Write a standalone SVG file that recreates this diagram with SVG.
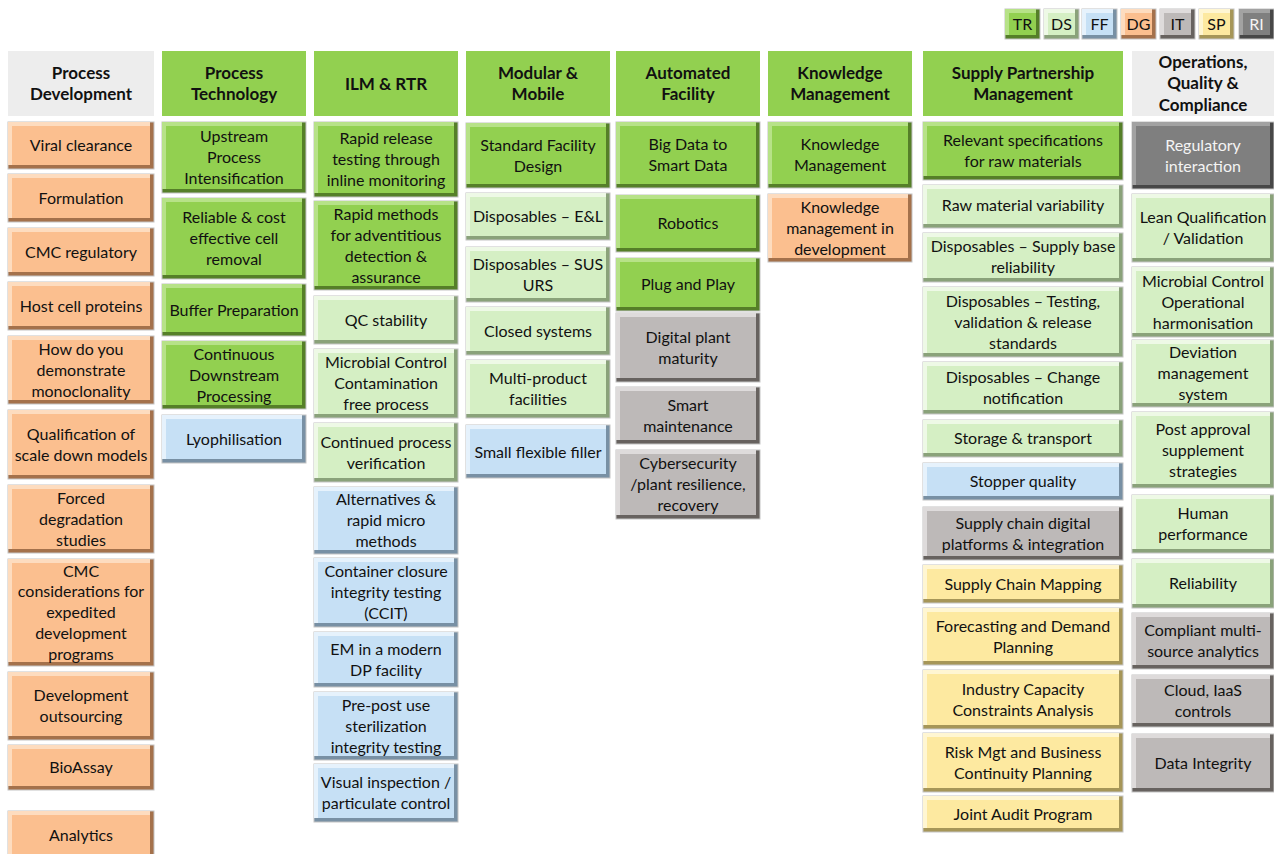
<svg xmlns="http://www.w3.org/2000/svg" width="1274" height="854" viewBox="0 0 1274 854">
<style>
  text{font-family:Lato,"Open Sans","Liberation Sans",sans-serif;font-size:16px;fill:#111111;text-anchor:middle}
  .hd text{font-weight:bold;font-size:17px}
  .hd rect{fill:#92d050}
  .hd.g rect{fill:#ededed}
  .d{stroke:#c4c4c4;stroke-width:1}
  .tr .d{fill:#557f28}.tr .l{fill:#b7e288}.tr .m{fill:#92d050}
  .ds .d{fill:#8aa27a}.ds .l{fill:#eef9e6}.ds .m{fill:#d5efc4}
  .ff .d{fill:#7890a4}.ff .l{fill:#e6f2fc}.ff .m{fill:#c6e0f5}
  .dg .d{fill:#a4714b}.dg .l{fill:#fddcbf}.dg .m{fill:#fbbf8f}
  .it .d{fill:#67625f}.it .l{fill:#dedbdb}.it .m{fill:#bdb9b8}
  .sp .d{fill:#a69658}.sp .l{fill:#fff6d2}.sp .m{fill:#fde9a0}
  .ri .d{fill:#474747}.ri .l{fill:#a2a2a2}.ri .m{fill:#7f7f7f}
  .ri text{fill:#f4f4f4}
</style>
<rect width="1274" height="854" fill="#ffffff"/>

<!-- colour key -->
<g id="legend">
  <g id="key-tr" class="tr"><rect class="d" x="1005" y="9" width="35" height="30"/><rect class="l" x="1005" y="9" width="31" height="26"/><rect class="m" x="1009" y="13" width="27" height="22"/><text x="1022.5" y="29.5">TR</text></g>
  <g id="key-ds" class="ds"><rect class="d" x="1044" y="9" width="35" height="30"/><rect class="l" x="1044" y="9" width="31" height="26"/><rect class="m" x="1048" y="13" width="27" height="22"/><text x="1061.5" y="29.5">DS</text></g>
  <g id="key-ff" class="ff"><rect class="d" x="1082" y="9" width="35" height="30"/><rect class="l" x="1082" y="9" width="31" height="26"/><rect class="m" x="1086" y="13" width="27" height="22"/><text x="1099.5" y="29.5">FF</text></g>
  <g id="key-dg" class="dg"><rect class="d" x="1121" y="9" width="35" height="30"/><rect class="l" x="1121" y="9" width="31" height="26"/><rect class="m" x="1125" y="13" width="27" height="22"/><text x="1138.5" y="29.5">DG</text></g>
  <g id="key-it" class="it"><rect class="d" x="1160" y="9" width="35" height="30"/><rect class="l" x="1160" y="9" width="31" height="26"/><rect class="m" x="1164" y="13" width="27" height="22"/><text x="1177.5" y="29.5">IT</text></g>
  <g id="key-sp" class="sp"><rect class="d" x="1199" y="9" width="35" height="30"/><rect class="l" x="1199" y="9" width="31" height="26"/><rect class="m" x="1203" y="13" width="27" height="22"/><text x="1216.5" y="29.5">SP</text></g>
  <g id="key-ri" class="ri"><rect class="d" x="1239" y="9" width="35" height="30"/><rect class="l" x="1239" y="9" width="31" height="26"/><rect class="m" x="1243" y="13" width="27" height="22"/><text x="1256.5" y="29.5">RI</text></g>
</g>

<!-- column headers -->
<g id="hdr-process-development" class="hd g"><rect x="8" y="51" width="146" height="65"/><text x="81" y="78.5">Process<tspan x="81" dy="21.5">Development</tspan></text></g>
<g id="hdr-process-technology" class="hd"><rect x="162" y="51" width="144" height="65"/><text x="234" y="78.5">Process<tspan x="234" dy="21.5">Technology</tspan></text></g>
<g id="hdr-ilm-rtr" class="hd"><rect x="314" y="51" width="144" height="65"/><text x="386" y="89.5">ILM &amp; RTR</text></g>
<g id="hdr-modular-mobile" class="hd"><rect x="466" y="51" width="144" height="65"/><text x="538" y="78.5">Modular &amp;<tspan x="538" dy="21.5">Mobile</tspan></text></g>
<g id="hdr-automated-facility" class="hd"><rect x="616" y="51" width="144" height="65"/><text x="688" y="78.5">Automated<tspan x="688" dy="21.5">Facility</tspan></text></g>
<g id="hdr-knowledge-management" class="hd"><rect x="768" y="51" width="144" height="65"/><text x="840" y="78.5">Knowledge<tspan x="840" dy="21.5">Management</tspan></text></g>
<g id="hdr-supply-partnership" class="hd"><rect x="923" y="51" width="200" height="65"/><text x="1023" y="78.5">Supply Partnership<tspan x="1023" dy="21.5">Management</tspan></text></g>
<g id="hdr-operations-quality" class="hd g"><rect x="1132" y="51" width="142" height="65"/><text x="1203" y="67.5">Operations,<tspan x="1203" dy="21.5">Quality &amp;</tspan><tspan x="1203" dy="21.5">Compliance</tspan></text></g>

<!-- Process Development -->
<g id="pd-viral-clearance" class="dg"><rect class="d" x="8" y="122" width="146" height="47"/><rect class="l" x="8" y="122" width="142" height="43"/><rect class="m" x="12" y="126" width="138" height="39"/><text x="81" y="151">Viral clearance</text></g>
<g id="pd-formulation" class="dg"><rect class="d" x="8" y="174" width="146" height="48"/><rect class="l" x="8" y="174" width="142" height="44"/><rect class="m" x="12" y="178" width="138" height="40"/><text x="81" y="203.5">Formulation</text></g>
<g id="pd-cmc-regulatory" class="dg"><rect class="d" x="8" y="228" width="146" height="48"/><rect class="l" x="8" y="228" width="142" height="44"/><rect class="m" x="12" y="232" width="138" height="40"/><text x="81" y="257.5">CMC regulatory</text></g>
<g id="pd-host-cell-proteins" class="dg"><rect class="d" x="8" y="282" width="146" height="48"/><rect class="l" x="8" y="282" width="142" height="44"/><rect class="m" x="12" y="286" width="138" height="40"/><text x="81" y="311.5">Host cell proteins</text></g>
<g id="pd-monoclonality" class="dg"><rect class="d" x="8" y="336" width="146" height="68"/><rect class="l" x="8" y="336" width="142" height="64"/><rect class="m" x="12" y="340" width="138" height="60"/><text x="81" y="354.5">How do you<tspan x="81" dy="21">demonstrate</tspan><tspan x="81" dy="21">monoclonality</tspan></text></g>
<g id="pd-scale-down-models" class="dg"><rect class="d" x="8" y="410" width="146" height="69"/><rect class="l" x="8" y="410" width="142" height="65"/><rect class="m" x="12" y="414" width="138" height="61"/><text x="81" y="439.5">Qualification of<tspan x="81" dy="21">scale down models</tspan></text></g>
<g id="pd-forced-degradation" class="dg"><rect class="d" x="8" y="485" width="146" height="68"/><rect class="l" x="8" y="485" width="142" height="64"/><rect class="m" x="12" y="489" width="138" height="60"/><text x="81" y="503.5">Forced<tspan x="81" dy="21">degradation</tspan><tspan x="81" dy="21">studies</tspan></text></g>
<g id="pd-cmc-expedited" class="dg"><rect class="d" x="8" y="559" width="146" height="107"/><rect class="l" x="8" y="559" width="142" height="103"/><rect class="m" x="12" y="563" width="138" height="99"/><text x="81" y="576.5">CMC<tspan x="81" dy="20.8">considerations for</tspan><tspan x="81" dy="20.8">expedited</tspan><tspan x="81" dy="20.8">development</tspan><tspan x="81" dy="20.8">programs</tspan></text></g>
<g id="pd-outsourcing" class="dg"><rect class="d" x="8" y="672" width="146" height="68"/><rect class="l" x="8" y="672" width="142" height="64"/><rect class="m" x="12" y="676" width="138" height="60"/><text x="81" y="701">Development<tspan x="81" dy="21">outsourcing</tspan></text></g>
<g id="pd-bioassay" class="dg"><rect class="d" x="8" y="745" width="146" height="45"/><rect class="l" x="8" y="745" width="142" height="41"/><rect class="m" x="12" y="749" width="138" height="37"/><text x="81" y="773">BioAssay</text></g>
<g id="pd-analytics" class="dg"><rect class="d" x="8" y="811" width="146" height="50"/><rect class="l" x="8" y="811" width="142" height="46"/><rect class="m" x="12" y="815" width="138" height="42"/><text x="81" y="840.5">Analytics</text></g>

<!-- Process Technology -->
<g id="pt-upstream" class="tr"><rect class="d" x="162" y="122" width="144" height="71"/><rect class="l" x="162" y="122" width="140" height="67"/><rect class="m" x="166" y="126" width="136" height="63"/><text x="234" y="142">Upstream<tspan x="234" dy="21">Process</tspan><tspan x="234" dy="21">Intensification</tspan></text></g>
<g id="pt-cell-removal" class="tr"><rect class="d" x="162" y="198" width="144" height="81"/><rect class="l" x="162" y="198" width="140" height="77"/><rect class="m" x="166" y="202" width="136" height="73"/><text x="234" y="223">Reliable &amp; cost<tspan x="234" dy="21">effective cell</tspan><tspan x="234" dy="21">removal</tspan></text></g>
<g id="pt-buffer" class="tr"><rect class="d" x="162" y="284" width="144" height="52"/><rect class="l" x="162" y="284" width="140" height="48"/><rect class="m" x="166" y="288" width="136" height="44"/><text x="234" y="315.5">Buffer Preparation</text></g>
<g id="pt-downstream" class="tr"><rect class="d" x="162" y="341" width="144" height="68"/><rect class="l" x="162" y="341" width="140" height="64"/><rect class="m" x="166" y="345" width="136" height="60"/><text x="234" y="359.5">Continuous<tspan x="234" dy="21">Downstream</tspan><tspan x="234" dy="21">Processing</tspan></text></g>
<g id="pt-lyophilisation" class="ff"><rect class="d" x="162" y="415" width="144" height="48"/><rect class="l" x="162" y="415" width="140" height="44"/><rect class="m" x="166" y="419" width="136" height="40"/><text x="234" y="444.5">Lyophilisation</text></g>

<!-- ILM & RTR -->
<g id="ilm-rapid-release" class="tr"><rect class="d" x="314" y="122" width="144" height="75"/><rect class="l" x="314" y="122" width="140" height="71"/><rect class="m" x="318" y="126" width="136" height="67"/><text x="386" y="144">Rapid release<tspan x="386" dy="21">testing through</tspan><tspan x="386" dy="21">inline monitoring</tspan></text></g>
<g id="ilm-adventitious" class="tr"><rect class="d" x="314" y="201" width="144" height="89"/><rect class="l" x="314" y="201" width="140" height="85"/><rect class="m" x="318" y="205" width="136" height="81"/><text x="386" y="219.5">Rapid methods<tspan x="386" dy="21">for adventitious</tspan><tspan x="386" dy="21">detection &amp;</tspan><tspan x="386" dy="21">assurance</tspan></text></g>
<g id="ilm-qc-stability" class="ds"><rect class="d" x="314" y="296" width="144" height="48"/><rect class="l" x="314" y="296" width="140" height="44"/><rect class="m" x="318" y="300" width="136" height="40"/><text x="386" y="325.5">QC stability</text></g>
<g id="ilm-microbial-control" class="ds"><rect class="d" x="314" y="349" width="144" height="69"/><rect class="l" x="314" y="349" width="140" height="65"/><rect class="m" x="318" y="353" width="136" height="61"/><text x="386" y="368">Microbial Control<tspan x="386" dy="21">Contamination</tspan><tspan x="386" dy="21">free process</tspan></text></g>
<g id="ilm-cpv" class="ds"><rect class="d" x="314" y="423" width="144" height="59"/><rect class="l" x="314" y="423" width="140" height="55"/><rect class="m" x="318" y="427" width="136" height="51"/><text x="386" y="447.5">Continued process<tspan x="386" dy="21">verification</tspan></text></g>
<g id="ilm-rapid-micro" class="ff"><rect class="d" x="314" y="487" width="144" height="67"/><rect class="l" x="314" y="487" width="140" height="63"/><rect class="m" x="318" y="491" width="136" height="59"/><text x="386" y="505">Alternatives &amp;<tspan x="386" dy="21">rapid micro</tspan><tspan x="386" dy="21">methods</tspan></text></g>
<g id="ilm-ccit" class="ff"><rect class="d" x="314" y="558" width="144" height="69"/><rect class="l" x="314" y="558" width="140" height="65"/><rect class="m" x="318" y="562" width="136" height="61"/><text x="386" y="577">Container closure<tspan x="386" dy="21">integrity testing</tspan><tspan x="386" dy="21">(CCIT)</tspan></text></g>
<g id="ilm-em" class="ff"><rect class="d" x="314" y="632" width="144" height="55"/><rect class="l" x="314" y="632" width="140" height="51"/><rect class="m" x="318" y="636" width="136" height="47"/><text x="386" y="654.5">EM in a modern<tspan x="386" dy="21">DP facility</tspan></text></g>
<g id="ilm-sterilization" class="ff"><rect class="d" x="314" y="692" width="144" height="68"/><rect class="l" x="314" y="692" width="140" height="64"/><rect class="m" x="318" y="696" width="136" height="60"/><text x="386" y="710.5">Pre-post use<tspan x="386" dy="21">sterilization</tspan><tspan x="386" dy="21">integrity testing</tspan></text></g>
<g id="ilm-visual-inspection" class="ff"><rect class="d" x="314" y="764" width="144" height="58"/><rect class="l" x="314" y="764" width="140" height="54"/><rect class="m" x="318" y="768" width="136" height="50"/><text x="386" y="788">Visual inspection /<tspan x="386" dy="21">particulate control</tspan></text></g>

<!-- Modular & Mobile -->
<g id="mm-standard-facility" class="tr"><rect class="d" x="466" y="123" width="144" height="65"/><rect class="l" x="466" y="123" width="140" height="61"/><rect class="m" x="470" y="127" width="136" height="57"/><text x="538" y="150.5">Standard Facility<tspan x="538" dy="21">Design</tspan></text></g>
<g id="mm-disposables-el" class="ds"><rect class="d" x="466" y="193" width="144" height="47"/><rect class="l" x="466" y="193" width="140" height="43"/><rect class="m" x="470" y="197" width="136" height="39"/><text x="538" y="222">Disposables – E&amp;L</text></g>
<g id="mm-disposables-sus" class="ds"><rect class="d" x="466" y="247" width="144" height="55"/><rect class="l" x="466" y="247" width="140" height="51"/><rect class="m" x="470" y="251" width="136" height="47"/><text x="538" y="269.5">Disposables – SUS<tspan x="538" dy="21">URS</tspan></text></g>
<g id="mm-closed-systems" class="ds"><rect class="d" x="466" y="307" width="144" height="48"/><rect class="l" x="466" y="307" width="140" height="44"/><rect class="m" x="470" y="311" width="136" height="40"/><text x="538" y="336.5">Closed systems</text></g>
<g id="mm-multi-product" class="ds"><rect class="d" x="466" y="360" width="144" height="58"/><rect class="l" x="466" y="360" width="140" height="54"/><rect class="m" x="470" y="364" width="136" height="50"/><text x="538" y="384">Multi-product<tspan x="538" dy="21">facilities</tspan></text></g>
<g id="mm-flexible-filler" class="ff"><rect class="d" x="466" y="425" width="144" height="53"/><rect class="l" x="466" y="425" width="140" height="49"/><rect class="m" x="470" y="429" width="136" height="45"/><text x="538" y="457.5">Small flexible filler</text></g>

<!-- Automated Facility -->
<g id="af-big-data" class="tr"><rect class="d" x="616" y="122" width="144" height="66"/><rect class="l" x="616" y="122" width="140" height="62"/><rect class="m" x="620" y="126" width="136" height="58"/><text x="688" y="150">Big Data to<tspan x="688" dy="21">Smart Data</tspan></text></g>
<g id="af-robotics" class="tr"><rect class="d" x="616" y="195" width="144" height="57"/><rect class="l" x="616" y="195" width="140" height="53"/><rect class="m" x="620" y="199" width="136" height="49"/><text x="688" y="229">Robotics</text></g>
<g id="af-plug-and-play" class="tr"><rect class="d" x="616" y="258" width="144" height="53"/><rect class="l" x="616" y="258" width="140" height="49"/><rect class="m" x="620" y="262" width="136" height="45"/><text x="688" y="290">Plug and Play</text></g>
<g id="af-digital-maturity" class="it"><rect class="d" x="616" y="313" width="144" height="69"/><rect class="l" x="616" y="313" width="140" height="65"/><rect class="m" x="620" y="317" width="136" height="61"/><text x="688" y="342.5">Digital plant<tspan x="688" dy="21">maturity</tspan></text></g>
<g id="af-smart-maintenance" class="it"><rect class="d" x="616" y="387" width="144" height="57"/><rect class="l" x="616" y="387" width="140" height="53"/><rect class="m" x="620" y="391" width="136" height="49"/><text x="688" y="410.5">Smart<tspan x="688" dy="21">maintenance</tspan></text></g>
<g id="af-cybersecurity" class="it"><rect class="d" x="616" y="450" width="144" height="69"/><rect class="l" x="616" y="450" width="140" height="65"/><rect class="m" x="620" y="454" width="136" height="61"/><text x="688" y="469">Cybersecurity<tspan x="688" dy="21">/plant resilience,</tspan><tspan x="688" dy="21">recovery</tspan></text></g>

<!-- Knowledge Management -->
<g id="km-knowledge-management" class="tr"><rect class="d" x="768" y="122" width="144" height="66"/><rect class="l" x="768" y="122" width="140" height="62"/><rect class="m" x="772" y="126" width="136" height="58"/><text x="840" y="150">Knowledge<tspan x="840" dy="21">Management</tspan></text></g>
<g id="km-in-development" class="dg"><rect class="d" x="768" y="194" width="144" height="68"/><rect class="l" x="768" y="194" width="140" height="64"/><rect class="m" x="772" y="198" width="136" height="60"/><text x="840" y="212.5">Knowledge<tspan x="840" dy="21">management in</tspan><tspan x="840" dy="21">development</tspan></text></g>

<!-- Supply Partnership Management -->
<g id="sp-raw-specs" class="tr"><rect class="d" x="923" y="122" width="200" height="58"/><rect class="l" x="923" y="122" width="196" height="54"/><rect class="m" x="927" y="126" width="192" height="50"/><text x="1023" y="146">Relevant specifications<tspan x="1023" dy="21">for raw materials</tspan></text></g>
<g id="sp-raw-variability" class="ds"><rect class="d" x="923" y="185" width="200" height="43"/><rect class="l" x="923" y="185" width="196" height="39"/><rect class="m" x="927" y="189" width="192" height="35"/><text x="1023" y="210.5">Raw material variability</text></g>
<g id="sp-supply-base" class="ds"><rect class="d" x="923" y="233" width="200" height="49"/><rect class="l" x="923" y="233" width="196" height="45"/><rect class="m" x="927" y="237" width="192" height="41"/><text x="1023" y="251.5">Disposables – Supply base<tspan x="1023" dy="21">reliability</tspan></text></g>
<g id="sp-release-standards" class="ds"><rect class="d" x="923" y="287" width="200" height="70"/><rect class="l" x="923" y="287" width="196" height="66"/><rect class="m" x="927" y="291" width="192" height="62"/><text x="1023" y="306.5">Disposables – Testing,<tspan x="1023" dy="21">validation &amp; release</tspan><tspan x="1023" dy="21">standards</tspan></text></g>
<g id="sp-change-notification" class="ds"><rect class="d" x="923" y="362" width="200" height="52"/><rect class="l" x="923" y="362" width="196" height="48"/><rect class="m" x="927" y="366" width="192" height="44"/><text x="1023" y="383">Disposables – Change<tspan x="1023" dy="21">notification</tspan></text></g>
<g id="sp-storage-transport" class="ds"><rect class="d" x="923" y="420" width="200" height="37"/><rect class="l" x="923" y="420" width="196" height="33"/><rect class="m" x="927" y="424" width="192" height="29"/><text x="1023" y="444">Storage &amp; transport</text></g>
<g id="sp-stopper-quality" class="ff"><rect class="d" x="923" y="463" width="200" height="37"/><rect class="l" x="923" y="463" width="196" height="33"/><rect class="m" x="927" y="467" width="192" height="29"/><text x="1023" y="487">Stopper quality</text></g>
<g id="sp-digital-platforms" class="it"><rect class="d" x="923" y="507" width="200" height="53"/><rect class="l" x="923" y="507" width="196" height="49"/><rect class="m" x="927" y="511" width="192" height="45"/><text x="1023" y="528.5">Supply chain digital<tspan x="1023" dy="21">platforms &amp; integration</tspan></text></g>
<g id="sp-chain-mapping" class="sp"><rect class="d" x="923" y="565" width="200" height="38"/><rect class="l" x="923" y="565" width="196" height="34"/><rect class="m" x="927" y="569" width="192" height="30"/><text x="1023" y="589.5">Supply Chain Mapping</text></g>
<g id="sp-demand-planning" class="sp"><rect class="d" x="923" y="608" width="200" height="57"/><rect class="l" x="923" y="608" width="196" height="53"/><rect class="m" x="927" y="612" width="192" height="49"/><text x="1023" y="631.5">Forecasting and Demand<tspan x="1023" dy="21">Planning</tspan></text></g>
<g id="sp-capacity" class="sp"><rect class="d" x="923" y="670" width="200" height="59"/><rect class="l" x="923" y="670" width="196" height="55"/><rect class="m" x="927" y="674" width="192" height="51"/><text x="1023" y="694.5">Industry Capacity<tspan x="1023" dy="21">Constraints Analysis</tspan></text></g>
<g id="sp-continuity" class="sp"><rect class="d" x="923" y="733" width="200" height="59"/><rect class="l" x="923" y="733" width="196" height="55"/><rect class="m" x="927" y="737" width="192" height="51"/><text x="1023" y="757.5">Risk Mgt and Business<tspan x="1023" dy="21">Continuity Planning</tspan></text></g>
<g id="sp-joint-audit" class="sp"><rect class="d" x="923" y="796" width="200" height="36"/><rect class="l" x="923" y="796" width="196" height="32"/><rect class="m" x="927" y="800" width="192" height="28"/><text x="1023" y="819.5">Joint Audit Program</text></g>

<!-- Operations, Quality & Compliance -->
<g id="oq-regulatory" class="ri"><rect class="d" x="1132" y="122" width="142" height="67"/><rect class="l" x="1132" y="122" width="138" height="63"/><rect class="m" x="1136" y="126" width="134" height="59"/><text x="1203" y="150.5">Regulatory<tspan x="1203" dy="21">interaction</tspan></text></g>
<g id="oq-lean-qualification" class="ds"><rect class="d" x="1132" y="194" width="142" height="68"/><rect class="l" x="1132" y="194" width="138" height="64"/><rect class="m" x="1136" y="198" width="134" height="60"/><text x="1203" y="223">Lean Qualification<tspan x="1203" dy="21">/ Validation</tspan></text></g>
<g id="oq-microbial-control" class="ds"><rect class="d" x="1132" y="267" width="142" height="70"/><rect class="l" x="1132" y="267" width="138" height="66"/><rect class="m" x="1136" y="271" width="134" height="62"/><text x="1203" y="286.5">Microbial Control<tspan x="1203" dy="21">Operational</tspan><tspan x="1203" dy="21">harmonisation</tspan></text></g>
<g id="oq-deviation" class="ds"><rect class="d" x="1132" y="340" width="142" height="67"/><rect class="l" x="1132" y="340" width="138" height="63"/><rect class="m" x="1136" y="344" width="134" height="59"/><text x="1203" y="358">Deviation<tspan x="1203" dy="21">management</tspan><tspan x="1203" dy="21">system</tspan></text></g>
<g id="oq-post-approval" class="ds"><rect class="d" x="1132" y="412" width="142" height="76"/><rect class="l" x="1132" y="412" width="138" height="72"/><rect class="m" x="1136" y="416" width="134" height="68"/><text x="1203" y="434.5">Post approval<tspan x="1203" dy="21">supplement</tspan><tspan x="1203" dy="21">strategies</tspan></text></g>
<g id="oq-human-performance" class="ds"><rect class="d" x="1132" y="495" width="142" height="58"/><rect class="l" x="1132" y="495" width="138" height="54"/><rect class="m" x="1136" y="499" width="134" height="50"/><text x="1203" y="519">Human<tspan x="1203" dy="21">performance</tspan></text></g>
<g id="oq-reliability" class="ds"><rect class="d" x="1132" y="559" width="142" height="49"/><rect class="l" x="1132" y="559" width="138" height="45"/><rect class="m" x="1136" y="563" width="134" height="41"/><text x="1203" y="589">Reliability</text></g>
<g id="oq-analytics" class="it"><rect class="d" x="1132" y="613" width="142" height="56"/><rect class="l" x="1132" y="613" width="138" height="52"/><rect class="m" x="1136" y="617" width="134" height="48"/><text x="1203" y="636">Compliant multi-<tspan x="1203" dy="21">source analytics</tspan></text></g>
<g id="oq-cloud" class="it"><rect class="d" x="1132" y="675" width="142" height="52"/><rect class="l" x="1132" y="675" width="138" height="48"/><rect class="m" x="1136" y="679" width="134" height="44"/><text x="1203" y="696">Cloud, IaaS<tspan x="1203" dy="21">controls</tspan></text></g>
<g id="oq-data-integrity" class="it"><rect class="d" x="1132" y="734" width="142" height="58"/><rect class="l" x="1132" y="734" width="138" height="54"/><rect class="m" x="1136" y="738" width="134" height="50"/><text x="1203" y="768.5">Data Integrity</text></g>
</svg>
